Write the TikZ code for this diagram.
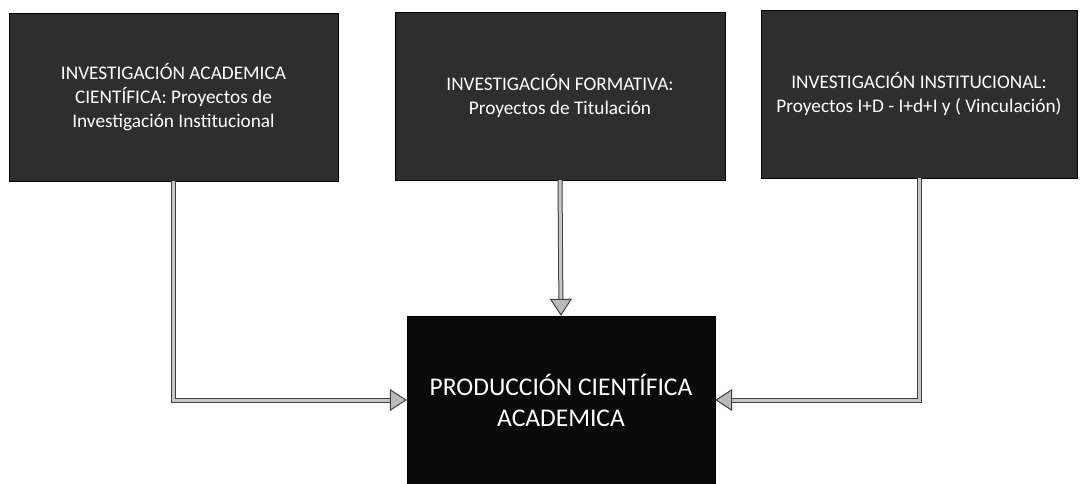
\documentclass[tikz,border=0pt]{standalone}
\usepackage{fontspec}
\setmainfont{Carlito}
\usetikzlibrary{arrows.meta}
\begin{document}
\begin{tikzpicture}[x=1pt,y=-1pt,
  topbox/.style={fill=black!82, draw=black, minimum height=168pt, inner sep=0pt,
    text=white, align=center, font=\fontsize{19.3}{24}\selectfont},
  outbox/.style={fill=black!96, draw=black, minimum width=308pt, minimum height=168pt,
    inner sep=0pt, text=white, align=center, font=\fontsize{25.5}{31}\selectfont},
  conn/.style={draw=black!75, line width=1pt, double=gray!45, double distance=3pt,
    -{Triangle[length=17pt,width=22pt,fill=gray!55,color=black!75,line width=1pt]}}
]
\useasboundingbox (0,0) rectangle (1081,484);
\node[topbox, minimum width=329pt] (b1) at (173.5,97) {INVESTIGACIÓN ACADEMICA\\CIENTÍFICA: Proyectos de\\Investigación Institucional};
\node[topbox, minimum width=330pt] (b2) at (560,96) {INVESTIGACIÓN FORMATIVA:\\Proyectos de Titulación};
\node[topbox, minimum width=316pt] (b3) at (919,94) {INVESTIGACIÓN INSTITUCIONAL:\\Proyectos I+D - I+d+I y ( Vinculación)};
\node[outbox] (out) at (561,400) {PRODUCCIÓN CIENTÍFICA\\ACADEMICA};
\draw[conn] (b1.south) |- (out.west);
\draw[conn] (b2.south) -- (out.north);
\draw[conn] (b3.south) |- (out.east);
\end{tikzpicture}
\end{document}
